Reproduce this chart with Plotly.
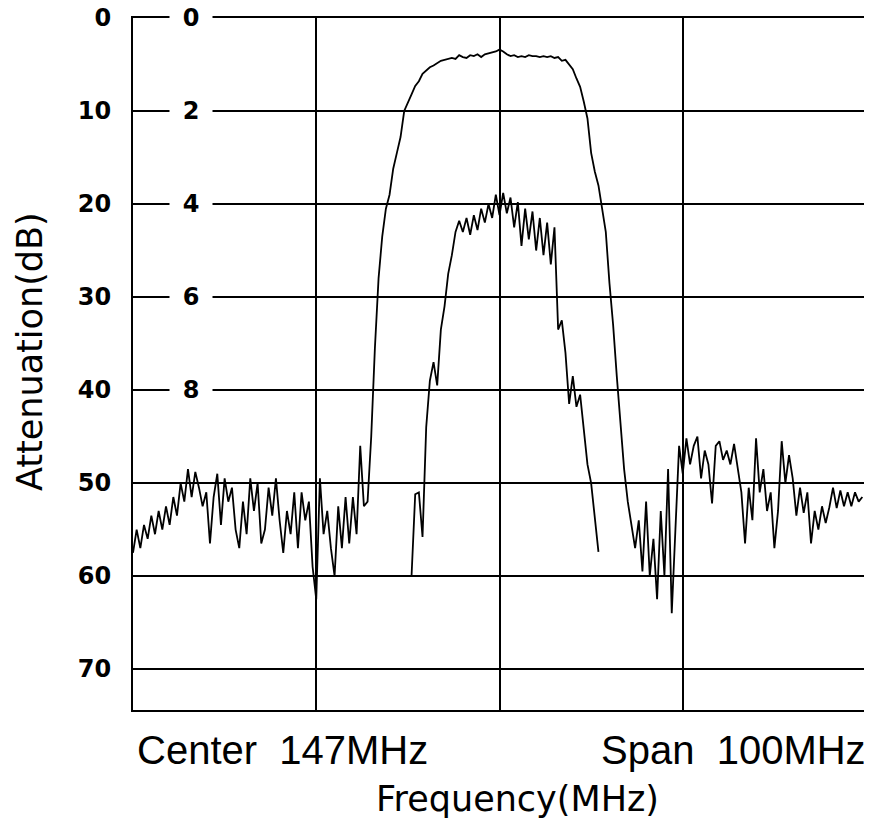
import plotly.graph_objects as go

# Sweep settings (Center 147 MHz, Span 100 MHz)
FREQ_START = 97.0
FREQ_STOP = 197.0
STEP = 0.5

# Wide (outer) response, attenuation in dB, one value per 0.5 MHz from 97 MHz
atten_wide = [
    57.5, 55, 57, 54.5, 56, 53.5, 55.5, 53, 55, 52.5,
    54.5, 51.5, 53.5, 50, 52, 48.5, 51.5, 48.8, 50.5, 52.5,
    51, 56.5, 51.5, 49, 54.5, 49.5, 52, 50.5, 55, 57,
    52, 55.5, 49.5, 53, 50, 56.5, 55, 50.5, 53.5, 49.5,
    54, 57.5, 53, 55.5, 51, 57, 51, 54, 52, 59,
    62.5, 49.5, 55.5, 53, 57, 60, 52.5, 57, 51.5, 56.5,
    51.5, 55.5, 46, 52.5, 52, 45, 35.5, 28, 23.5, 20.5,
    19, 16.2, 14.5, 12.8, 10, 9, 8.2, 7.3, 6.8, 6,
    5.6, 5.3, 5.1, 4.8, 4.6, 4.5, 4.4, 4.3, 4.4, 4.0,
    4.2, 4.3, 4.0, 4.1, 3.9, 4.2, 3.9, 3.8, 3.7, 3.6,
    3.4, 3.6, 3.9, 4.1, 4.0, 4.2, 4.1, 4.2, 4.0, 4.1,
    4.1, 4.2, 4.1, 4.2, 4.1, 4.3, 4.2, 4.6, 4.5, 5.0,
    5.5, 6.5, 7.4, 9, 10.8, 14.5, 16.5, 18, 20.3, 23,
    28.5, 33, 38.5, 43.5, 48.5, 52, 54.5, 57, 54, 59.5,
    52, 60, 56, 62.5, 53, 60, 48.5, 64, 55, 46,
    49, 45.2, 48, 46, 45, 49.5, 46.5, 48, 52.2, 46,
    45.5, 47.5, 46.5, 48, 45.8, 48.5, 51, 56.5, 50.5, 54,
    45.2, 51, 48.5, 53, 51, 57, 53, 45.5, 50, 47,
    49.5, 53.5, 50.5, 53.2, 51, 56.5, 53, 55, 52.5, 54.3,
    52.6, 50.5, 52.7, 50.8, 52.5, 51, 52.5, 51, 52, 51.5,
]
freq_wide = [FREQ_START + STEP * i for i in range(len(atten_wide))]

# Narrow (inner) response, one value per 0.5 MHz from 135 MHz
NARROW_START = 135.0
atten_narrow = [
    60, 51.2, 51, 55.8, 44, 39, 37, 39.5, 33.5, 31,
    27.5, 25.5, 23, 21.8, 23, 21.5, 23.3, 21.2, 22.8, 20.5,
    22, 20, 21.5, 19, 21.2, 18.8, 21, 19.3, 22.5, 19.8,
    24.5, 20.5, 23.8, 20.8, 25, 21.5, 25.5, 22, 26.5, 22.5,
    33.5, 32.5, 36, 41.5, 38.5, 41.8, 40.5, 44.5, 48, 50,
    54, 57.4,
]
freq_narrow = [NARROW_START + STEP * i for i in range(len(atten_narrow))]

# Axis labels
db_ticks = [0, 10, 20, 30, 40, 50, 60, 70]
inner_ticks = [0, 2, 4, 6, 8]          # secondary scale: 1 unit = 5 dB
INNER_DB_PER_UNIT = 5
freq_grid = [122, 147, 172]
Y_MAX = 74.4

tick_font = dict(family="DejaVu Sans", size=24, color="black", weight="bold")

fig = go.Figure()
fig.add_trace(go.Scatter(x=freq_wide, y=atten_wide, mode="lines",
                         line=dict(color="black", width=1.8), showlegend=False))
fig.add_trace(go.Scatter(x=freq_narrow, y=atten_narrow, mode="lines",
                         line=dict(color="black", width=1.8), showlegend=False))

# page body has an 8px margin, so the figure is laid out 8px in from the window
OFF = 8
W, H = 872 - OFF, 823 - OFF
ML, MR, MT, MB = 133 - OFF, 6, 18 - OFF, 113
plot_w = W - ML - MR
plot_h = H - MT - MB


def px(pix):
    return (pix - OFF - ML) / plot_w


def py(pix):
    return (H - MB - (pix - OFF)) / plot_h


annotations = []
for v in inner_ticks:
    annotations.append(dict(
        x=px(191), xref="paper", y=v * INNER_DB_PER_UNIT, yref="y",
        text=str(v), showarrow=False, xanchor="center", yanchor="middle",
        bgcolor="white", width=40, height=20, font=tick_font,
    ))

annotations += [
    dict(x=px(30), y=py(352), xref="paper", yref="paper", text="Attenuation(dB)",
         textangle=-90, showarrow=False, xanchor="center", yanchor="middle",
         font=dict(family="DejaVu Sans", size=35, color="black")),
    dict(x=px(517), y=py(799), xref="paper", yref="paper", text="Frequency(MHz)",
         showarrow=False, xanchor="center", yanchor="middle",
         font=dict(family="DejaVu Sans", size=35, color="black")),
    dict(x=px(135), y=py(750), xref="paper", yref="paper",
         text="Center\u00a0\u00a0147MHz", showarrow=False, xanchor="left",
         yanchor="middle", font=dict(family="Liberation Sans", size=40, color="black")),
    dict(x=px(868), y=py(750), xref="paper", yref="paper",
         text="Span\u00a0\u00a0100MHz", showarrow=False, xanchor="right",
         yanchor="middle", font=dict(family="Liberation Sans", size=40, color="black")),
]

fig.update_layout(
    width=W, height=H,
    margin=dict(l=ML, r=MR, t=MT, b=MB, autoexpand=False),
    paper_bgcolor="white", plot_bgcolor="white",
    showlegend=False,
    annotations=annotations,
    xaxis=dict(range=[FREQ_START, FREQ_STOP], tickvals=freq_grid, showticklabels=False,
               showgrid=True, gridcolor="black", gridwidth=1.6, zeroline=False,
               showline=True, mirror=True, linecolor="black", linewidth=2, ticks="",
               automargin=False),
    yaxis=dict(range=[Y_MAX, 0], tickvals=db_ticks, ticktext=[str(t) for t in db_ticks],
               tickfont=tick_font, showgrid=True, gridcolor="black", gridwidth=1.6,
               zeroline=False, showline=True, mirror=True, linecolor="black",
               linewidth=2, ticks="", ticklabelstandoff=15,
               ticklabeloverflow="allow", automargin=False),
)

fig.write_html("out.html")
